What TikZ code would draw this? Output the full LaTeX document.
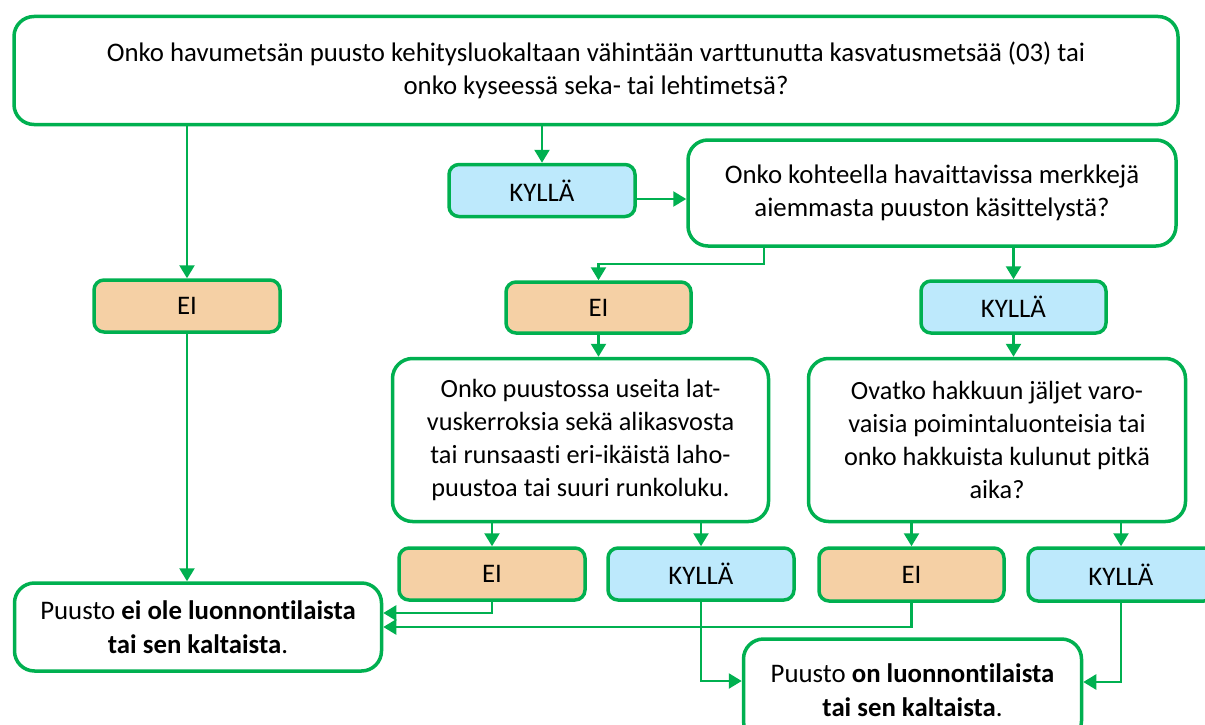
\documentclass[tikz,border=0pt]{standalone}
\usepackage{fontspec}
\setmainfont{Carlito}[Ligatures={NoCommon,NoRequired,NoContextual}]
\usetikzlibrary{arrows.meta}
\definecolor{gr}{HTML}{00B050}
\definecolor{orf}{HTML}{F5D0A5}
\definecolor{blf}{HTML}{BDE9FC}
\tikzset{
  box/.style={draw=gr, line width=3.5pt, fill=white, rounded corners=20pt, align=center, inner sep=0pt, font=\fontsize{26.8}{33.5}\selectfont},
  qbox/.style={box, font=\fontsize{26.3}{32.8}\selectfont},
  eibox/.style={box, fill=orf, rounded corners=10pt},
  kybox/.style={box, fill=blf, rounded corners=10pt},
  conn/.style={draw=gr, line width=2.5pt, -{Triangle[length=13pt,width=15pt]}}
}
\begin{document}
\begin{tikzpicture}[x=1pt,y=-1pt]
\useasboundingbox (0,0) rectangle (1205,725);
\node[box, minimum width=1164pt, minimum height=108pt] (top) at (596,70.5)
  {Onko havumetsän puusto kehitysluokaltaan vähintään varttunutta kasvatusmetsää (03) tai\\onko kyseessä seka- tai lehtimetsä?};
\node[eibox, minimum width=186pt, minimum height=52pt] (ei1) at (187,306) {EI};
\node[box, minimum width=367pt, minimum height=88pt] (puei) at (198,627)
  {Puusto \textbf{ei ole luonnontilaista}\\\textbf{tai sen kaltaista}.};
\node[kybox, minimum width=186pt, minimum height=52pt] (ky1) at (542,190.5) {KYLLÄ};
\node[box, minimum width=488pt, minimum height=106pt] (q2) at (932,193)
  {Onko kohteella havaittavissa merkkejä\\aiemmasta puuston käsittelystä?};
\node[eibox, minimum width=185pt, minimum height=51pt] (ei2) at (598.5,307.5) {EI};
\node[kybox, minimum width=185pt, minimum height=52pt] (ky2) at (1013.5,307) {KYLLÄ};
\node[qbox, minimum width=376pt, minimum height=163pt] (q3) at (580.5,440)
  {Onko puustossa useita lat-\\vuskerroksia sekä alikasvosta\\tai runsaasti eri-ikäistä laho-\\puustoa tai suuri runkoluku.};
\node[qbox, minimum width=377pt, minimum height=163pt] (q4) at (997,440)
  {Ovatko hakkuun jäljet varo-\\vaisia poimintaluonteisia tai\\onko hakkuista kulunut pitkä\\aika?};
\node[eibox, minimum width=186pt, minimum height=52pt] (ei3) at (492,574) {EI};
\node[kybox, minimum width=186pt, minimum height=52pt] (ky3) at (701,574) {KYLLÄ};
\node[eibox, minimum width=185pt, minimum height=53pt] (ei4) at (911.5,574.5) {EI};
\node[kybox, minimum width=186pt, minimum height=53pt] (ky4) at (1121,574.5) {KYLLÄ};
\node[box, minimum width=338pt, minimum height=102pt] (puon) at (912.5,690)
  {Puusto \textbf{on luonnontilaista}\\\textbf{tai sen kaltaista}.};
% connectors
\draw[conn] (top.south -| ei1.north) -- (ei1.north);
\draw[conn] (ei1.south) -- (puei.north -| ei1.south);
\draw[conn] (top.south -| ky1.north) -- (ky1.north);
\draw[conn] (ky1.east |- 0,199) -- (q2.west |- 0,199);
\draw[conn] (q2.south -| 764,0) -- (764,264) -- (598.5,264) -- (ei2.north);
\draw[conn] (q2.south -| ky2.north) -- (ky2.north);
\draw[conn] (ei2.south) -- (q3.north -| ei2.south);
\draw[conn] (ky2.south) -- (q4.north -| ky2.south);
\draw[conn] (q3.south -| ei3.north) -- (ei3.north);
\draw[conn] (q3.south -| ky3.north) -- (ky3.north);
\draw[conn] (q4.south -| ei4.north) -- (ei4.north);
\draw[conn] (q4.south -| ky4.north) -- (ky4.north);
\draw[conn] (ei3.south) -- (492,613) -- (puei.east |- 0,613);
\draw[conn] (ei4.south) -- (911.5,627) -- (puei.east |- 0,627);
\draw[conn] (ky3.south) -- (701,681) -- (puon.west |- 0,681);
\draw[conn] (ky4.south) -- (1121,682) -- (puon.east |- 0,682);
\end{tikzpicture}
\end{document}
